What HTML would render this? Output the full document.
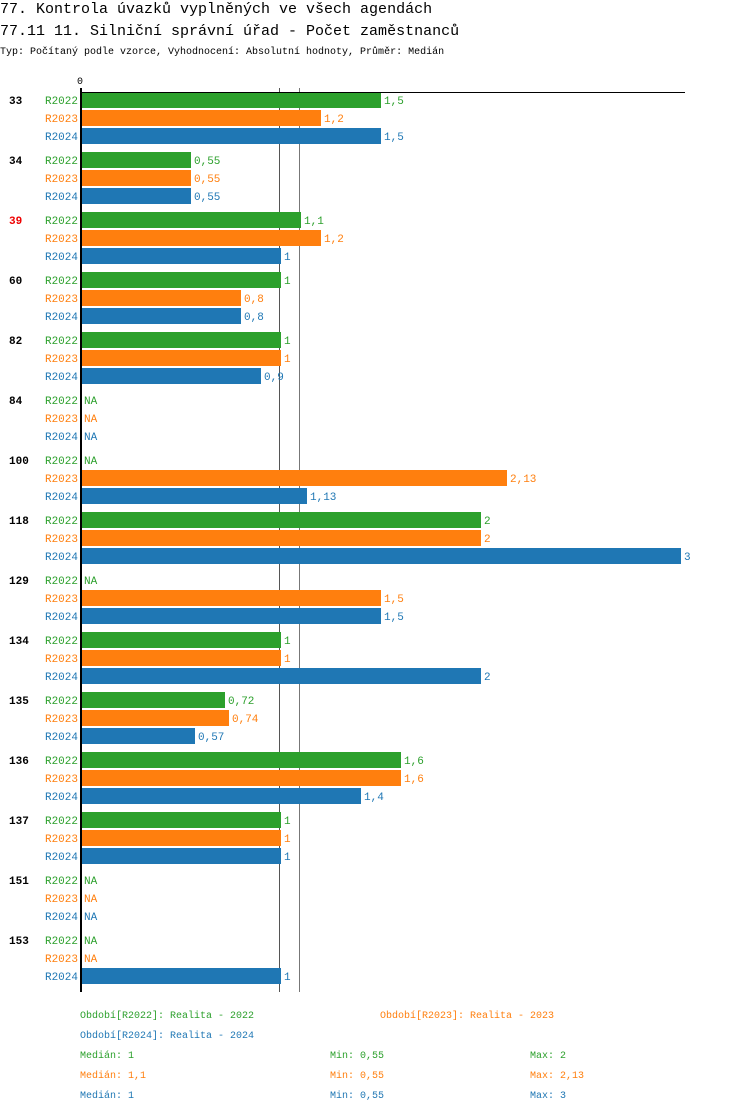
<!DOCTYPE html>
<html><head><meta charset="utf-8"><style>
body{margin:0;background:#fff;width:750px;height:1112px;overflow:hidden;font-family:"Liberation Mono",monospace}
svg text{font-family:"Liberation Mono","DejaVu Sans Mono",monospace}
</style></head><body>
<svg id="chart" width="750" height="1112" xmlns="http://www.w3.org/2000/svg">
<text x="0" y="13" font-size="15" fill="#000">77. Kontrola úvazků vyplněných ve všech agendách</text>
<text x="0" y="35" font-size="15" fill="#000">77.11 11. Silniční správní úřad - Počet zaměstnanců</text>
<text x="0" y="54" font-size="10" fill="#000">Typ: Počítaný podle vzorce, Vyhodnocení: Absolutní hodnoty, Průměr: Medián</text>
<g id="marks"></g>
</svg>
<script>
const categories=["33","34","39","60","82","84","100","118","129","134","135","136","137","151","153"];
const highlighted=["39"];
const series=["R2022","R2023","R2024"];
const colors=["#2ca02c","#ff7f0e","#1f77b4"];
const r2022=[1.5,0.55,1.1,1,1,null,null,2,null,1,0.72,1.6,1,null,null];
const r2023=[1.2,0.55,1.2,0.8,1,null,2.13,2,1.5,1,0.74,1.6,1,null,null];
const r2024=[1.5,0.55,1,0.8,0.9,null,1.13,3,1.5,2,0.57,1.4,1,null,1];
const medians=[1,1.1,1];
const values=[r2022,r2023,r2024];
const NS="http://www.w3.org/2000/svg";
const g=document.getElementById('marks');
const x=v=>81+v*200;
const yRow=(i,s)=>100+i*60+s*18;
function el(t,a,txt){const e=document.createElementNS(NS,t);for(const k in a)e.setAttribute(k,a[k]);if(txt!=null)e.textContent=txt;g.appendChild(e);return e;}
const fmt=v=>String(v).replace('.',',');
const lastY=yRow(categories.length-1,2)+16;
medians.forEach((m,k)=>{
  if(k==2)return;
  const ml=el('line',{x1:x(m)-1.5,x2:x(m)-1.5,y1:88,y2:lastY,stroke:k==0?'#555':'#777','stroke-width':1});
  
  
});
categories.forEach((c,i)=>{
  const t=el('text',{x:9,y:yRow(i,0)+4,'font-size':11,'font-weight':'bold',fill:highlighted.includes(c)?'#e00':'#000'},c);
  
  
  series.forEach((s,k)=>{
    const yc=yRow(i,k);
    const l=el('text',{x:78,y:yc+4,'font-size':11,fill:colors[k],'text-anchor':'end'},s);
    
    
    const v=values[k][i];
    if(v==null){
      const n=el('text',{x:84,y:yc+4,'font-size':11,fill:colors[k]},'NA');
      
      
    }else{
      const b=el('rect',{x:81,y:yc-8,width:x(v)-81,height:16,fill:colors[k]});
      
      
      const vl=el('text',{x:x(v)+3,y:yc+4,'font-size':11,fill:colors[k]},fmt(v));
      
      
    }
  });
});
const ax=el('line',{x1:80,x2:685,y1:92.5,y2:92.5,stroke:'#000','stroke-width':1});


const ay=el('line',{x1:81,x2:81,y1:88,y2:lastY,stroke:'#000','stroke-width':2});


const z=el('text',{x:77,y:84,'font-size':10,fill:'#000'},'0');


const leg=[[80,1018,0,'Období[R2022]: Realita - 2022'],[380,1018,1,'Období[R2023]: Realita - 2023'],[80,1038,2,'Období[R2024]: Realita - 2024']];
leg.forEach(([lx,ly,k,t])=>{const e=el('text',{x:lx,y:ly,'font-size':10,fill:colors[k]},t);

});
const mins=[0.55,0.55,0.55];const maxs=[2,2.13,3];
series.forEach((s,k)=>{const yy=1058+k*20;
const a=el('text',{x:80,y:yy,'font-size':10,fill:colors[k]},'Medián: '+fmt(medians[k]));


const b=el('text',{x:330,y:yy,'font-size':10,fill:colors[k]},'Min: '+fmt(mins[k]));


const c=el('text',{x:530,y:yy,'font-size':10,fill:colors[k]},'Max: '+fmt(maxs[k]));

});
</script>
</body></html>
